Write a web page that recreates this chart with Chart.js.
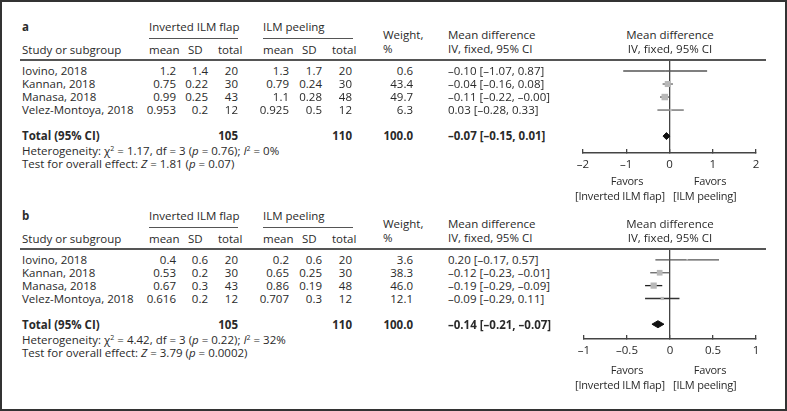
<!DOCTYPE html>
<html lang="en">
<head>
<meta charset="UTF-8">
<title>Forest plot</title>
<script src="https://cdn.jsdelivr.net/npm/chart.js"></script>
<style>
    html, body { margin: 0; padding: 0; background: #fff; }
    #fig { position: relative; width: 787px; height: 411px; overflow: hidden; }
    #frame { position: absolute; left: 0; top: 0; width: 787px; height: 411px; box-sizing: border-box; border: 2px solid #333; }
    .t { position: absolute; white-space: nowrap; font: 11.5px 'Open Sans', sans-serif; color: #2a2a2a; line-height: 14px; }
    .b { font-weight: bold; }
    .s { font-size: 11px; letter-spacing: -0.2px; }
    .rule { position: absolute; background: #555; }
    canvas { position: absolute; }
    sup { font-size: 7px; vertical-align: 4px; line-height: 0; }
</style>
</head>
<body>
<div id="fig">
    <div id="frame"></div>
    <canvas id="plotA" width="230" height="150" style="left:550px;top:50px;width:230px;height:150px"></canvas>
    <canvas id="plotB" width="230" height="150" style="left:550px;top:239px;width:230px;height:150px"></canvas>
</div>

<script>
    const studies = ['Iovino, 2018', 'Kannan, 2018', 'Manasa, 2018', 'Velez-Montoya, 2018'];

    // panel a
    const aFlapMean = [1.2, 0.75, 0.99, 0.953];
    const aFlapSD = [1.4, 0.22, 0.25, 0.2];
    const aFlapN = [20, 30, 43, 12];
    const aPeelMean = [1.3, 0.79, 1.1, 0.925];
    const aPeelSD = [1.7, 0.24, 0.28, 0.5];
    const aPeelN = [20, 30, 48, 12];
    const aWeight = [0.6, 43.4, 49.7, 6.3];
    const aMD = [-0.10, -0.04, -0.11, 0.03];
    const aLo = [-1.07, -0.16, -0.22, -0.28];
    const aHi = [0.87, 0.08, -0, 0.33];
    const aTotal = [-0.07, -0.15, 0.01];      // md, lower, upper
    const aHet = ['1.17', 3, '0.76', '0'];    // chi2, df, p, I2
    const aZ = ['1.81', '0.07'];
    const aAxis = [-2, 2, 1];                 // min, max, step

    // panel b
    const bFlapMean = [0.4, 0.53, 0.67, 0.616];
    const bFlapSD = [0.6, 0.2, 0.3, 0.2];
    const bFlapN = [20, 30, 43, 12];
    const bPeelMean = [0.2, 0.65, 0.86, 0.707];
    const bPeelSD = [0.6, 0.25, 0.19, 0.3];
    const bPeelN = [20, 30, 48, 12];
    const bWeight = [3.6, 38.3, 46.0, 12.1];
    const bMD = [0.20, -0.12, -0.19, -0.09];
    const bLo = [-0.17, -0.23, -0.29, -0.29];
    const bHi = [0.57, -0.01, -0.09, 0.11];
    const bTotal = [-0.14, -0.21, -0.07];
    const bHet = ['4.42', 3, '0.22', '32'];
    const bZ = ['3.79', '0.0002'];
    const bAxis = [-1, 1, 0.5];

    const fig = document.getElementById('fig');

    function put(x, y, html, align, cls) {
        const d = document.createElement('div');
        d.className = 't' + (cls ? ' ' + cls : '');
        d.style.left = x + 'px';
        d.style.top = y + 'px';
        d.style.transform = align === 'right' ? 'translate(-100%,-50%)'
            : align === 'center' ? 'translate(-50%,-50%)' : 'translateY(-50%)';
        d.innerHTML = html;
        fig.appendChild(d);
    }

    function rule(x, y, w, h) {
        const d = document.createElement('div');
        d.className = 'rule';
        d.style.left = x + 'px';
        d.style.top = y + 'px';
        d.style.width = w + 'px';
        d.style.height = h + 'px';
        fig.appendChild(d);
    }

    const neg = v => v < 0 || Object.is(v, -0);
    const f2 = v => (neg(v) ? '–' : '') + Math.abs(v).toFixed(2);
    const ci = (m, l, h) => f2(m) + ' [' + f2(l) + ', ' + f2(h) + ']';
    const sum = a => a.reduce((s, v) => s + v, 0);

    function table(letter, dy, d) {
        put(22, 27 + dy, letter, 'left', 'b');
        put(149, 27 + dy, 'Inverted ILM flap');
        put(263, 27 + dy, 'ILM peeling');
        rule(149, 37.5 + dy, 89, 1);
        rule(263, 37.5 + dy, 90, 1);
        put(22, 50 + dy, 'Study or subgroup');
        put(149, 50 + dy, 'mean');
        put(188, 50 + dy, 'SD');
        put(218, 50 + dy, 'total');
        put(263, 50 + dy, 'mean');
        put(302, 50 + dy, 'SD');
        put(332, 50 + dy, 'total');
        put(383, 35 + dy, 'Weight,');
        put(383, 49 + dy, '%');
        put(448, 35 + dy, 'Mean difference');
        put(448, 49 + dy, 'IV, fixed, 95% CI');
        put(670, 35 + dy, 'Mean difference', 'center');
        put(670, 49 + dy, 'IV, fixed, 95% CI', 'center');
        rule(20, 59 + dy, 746, 1.5);

        studies.forEach((s, i) => {
            const y = 71 + 13 * i + dy;
            put(22, y, s);
            put(176, y, String(d.fm[i]), 'right');
            put(208, y, String(d.fs[i]), 'right');
            put(238, y, String(d.fn[i]), 'right');
            put(289, y, String(d.pm[i]), 'right');
            put(322, y, String(d.ps[i]), 'right');
            put(352, y, String(d.pn[i]), 'right');
            put(413, y, d.w[i].toFixed(1), 'right');
            put(448, y, ci(d.md[i], d.lo[i], d.hi[i]));
        });

        const yt = 136 + dy;
        put(22, yt, 'Total (95% CI)', 'left', 'b');
        put(238, yt, String(sum(d.fn)), 'right', 'b');
        put(352, yt, String(sum(d.pn)), 'right', 'b');
        put(413, yt, sum(d.w).toFixed(1), 'right', 'b');
        put(448, yt, ci(d.tot[0], d.tot[1], d.tot[2]), 'left', 'b');
        put(22, 150.5 + dy, 'Heterogeneity: χ<sup>2</sup> = ' + d.het[0] + ', df = ' + d.het[1] +
            ' (<i>p</i> = ' + d.het[2] + '); <i>I</i><sup>2</sup> = ' + d.het[3] + '%');
        put(22, 164 + dy, 'Test for overall effect: <i>Z</i> = ' + d.z[0] + ' (<i>p</i> = ' + d.z[1] + ')');

        put(627, 181 + dy, 'Favors', 'center', 's');
        put(710, 181 + dy, 'Favors', 'center', 's');
        put(665, 196 + dy, '[Inverted ILM flap]', 'right', 's');
        put(673, 196 + dy, '[ILM peeling]', 'left', 's');
    }

    function forest(id, d, padLeft, yMax, axisH) {
        const rows = d.md.map((m, i) => i);
        const ty = studies.length + 1;
        const h = 0.27;
        const datasets = [
            {
                type: 'scatter',
                data: d.md.map((m, i) => ({ x: m, y: rows[i] })),
                pointStyle: 'rect',
                pointRadius: d.w.map(w => 0.65 * Math.sqrt(w)),
                backgroundColor: '#b8b8b8',
                borderWidth: 0
            },
            {
                type: 'line',
                data: [
                    { x: d.tot[1], y: ty }, { x: d.tot[0], y: ty - h },
                    { x: d.tot[2], y: ty }, { x: d.tot[0], y: ty + h },
                    { x: d.tot[1], y: ty }
                ],
                borderColor: '#111',
                backgroundColor: '#111',
                borderWidth: 1,
                fill: 'shape',
                pointRadius: 0,
                tension: 0
            }
        ];
        rows.forEach(i => {
            datasets.push({
                type: 'line',
                data: [{ x: d.lo[i], y: i }, { x: d.hi[i], y: i }],
                borderColor: d.lineColor[i],
                borderWidth: 1.3,
                pointRadius: 0
            });
        });

        new Chart(document.getElementById(id), {
            type: 'scatter',
            data: { datasets },
            options: {
                responsive: false,
                animation: false,
                layout: { padding: { left: padLeft, right: 24, top: 10, bottom: 0 } },
                plugins: { legend: { display: false }, tooltip: { enabled: false } },
                scales: {
                    x: {
                        type: 'linear',
                        min: d.axis[0],
                        max: d.axis[1],
                        ticks: {
                            stepSize: d.axis[2],
                            padding: 9,
                            color: '#2a2a2a',
                            font: { family: 'Open Sans', size: 11.5 },
                            callback: v => (v < 0 ? '–' : '') + Math.abs(v)
                        },
                        grid: {
                            color: c => (c.tick && c.tick.value === 0 ? '#444' : 'rgba(0,0,0,0)'),
                            lineWidth: 1.3,
                            tickColor: '#444',
                            tickLength: -4
                        },
                        border: { color: '#444', width: 1.5 },
                        afterFit: s => { s.height = axisH; }
                    },
                    y: {
                        type: 'linear',
                        display: false,
                        reverse: true,
                        min: -0.846,
                        max: yMax
                    }
                }
            }
        });
    }

    const panelA = {
        fm: aFlapMean, fs: aFlapSD, fn: aFlapN, pm: aPeelMean, ps: aPeelSD, pn: aPeelN,
        w: aWeight, md: aMD, lo: aLo, hi: aHi, tot: aTotal, het: aHet, z: aZ, axis: aAxis,
        lineColor: ['#555', '#666', '#555', '#666']
    };
    const panelB = {
        fm: bFlapMean, fs: bFlapSD, fn: bFlapN, pm: bPeelMean, ps: bPeelSD, pn: bPeelN,
        w: bWeight, md: bMD, lo: bLo, hi: bHi, tot: bTotal, het: bHet, z: bZ, axis: bAxis,
        lineColor: ['#555', '#666', '#222', '#333']
    };

    table('a', 0, panelA);
    table('b', 189, panelB);
    forest('plotA', panelA, 33, 6.3, 47);
    forest('plotB', panelB, 34, 6.15, 50);
</script>
</body>
</html>
